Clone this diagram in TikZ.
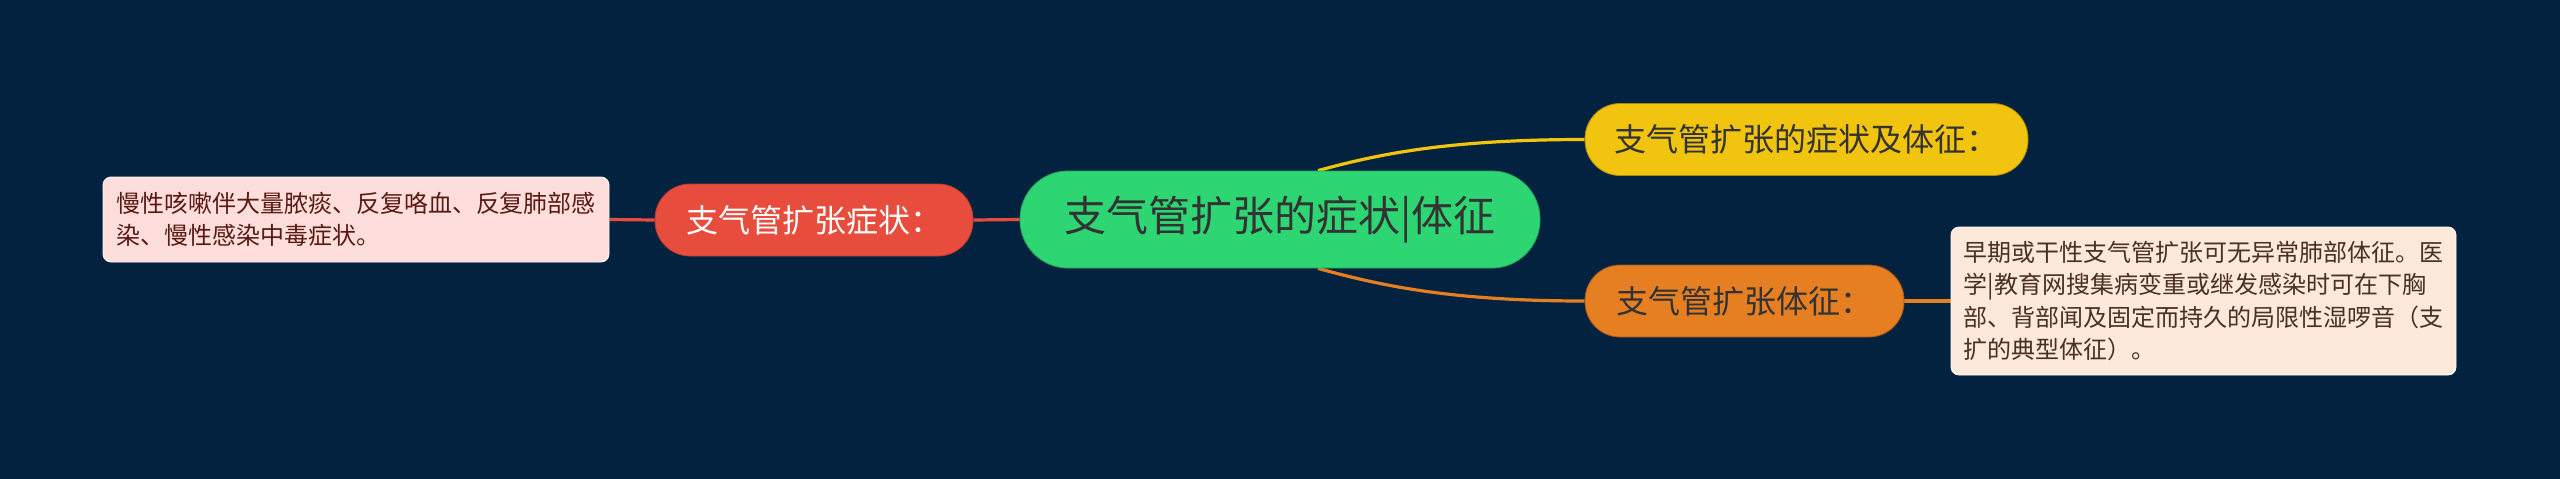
\documentclass[tikz,border=0pt]{standalone}
\usepackage{fontspec}
\setmainfont{Noto Sans CJK SC}
\usetikzlibrary{backgrounds}
\definecolor{bgc}{HTML}{022240}
\definecolor{cgreen}{HTML}{2ED573}
\definecolor{cred}{HTML}{E74C3C}
\definecolor{cyellow}{HTML}{F1C40F}
\definecolor{corange}{HTML}{E67E22}
\definecolor{pinkbox}{HTML}{FDDEDC}
\definecolor{peachbox}{HTML}{FCE9DA}
\definecolor{darktxt}{HTML}{333333}
\definecolor{redtxt}{HTML}{5A1A12}
\definecolor{browntxt}{HTML}{4A3020}
\tikzset{
  pill/.style={rounded corners=35pt, inner sep=0pt, align=center, line width=0.8pt},
  mainnode/.style={pill, rounded corners=48pt, fill=cgreen, draw=cgreen!80!black,
    minimum width=520pt, minimum height=97pt, text=darktxt,
    font=\fontsize{42}{48}\selectfont},
  subnode/.style={pill, minimum height=72pt, font=\fontsize{32}{38}\selectfont},
  detail/.style={rounded corners=8pt, inner sep=0pt, align=left, line width=0.8pt,
    font=\fontsize{24}{32.5}\selectfont},
  link/.style={line width=3.2pt}
}
\begin{document}
\begin{tikzpicture}[x=1pt,y=-1pt]
\useasboundingbox (0,0) rectangle (2560,479);
\node[mainnode] (root) at (1280,219.5) {支气管扩张的症状|体征};
\node[subnode, fill=cred, draw=cred!80!black, text=white, minimum width=318pt] (sym) at (814,220) {支气管扩张症状：};
\node[subnode, fill=cyellow, draw=cyellow!70!black, text=darktxt, minimum width=443pt] (both) at (1806.5,139.5) {支气管扩张的症状及体征：};
\node[subnode, fill=corange, draw=corange!70!black, text=darktxt, minimum width=319pt] (sign) at (1744.5,301) {支气管扩张体征：};
\node[detail, fill=pinkbox, draw=white!85!pinkbox, text=redtxt, minimum width=506pt, minimum height=85pt] (symd) at (356,219.5)
  {慢性咳嗽伴大量脓痰、反复咯血、反复肺部感\\染、慢性感染中毒症状。};
\node[detail, fill=peachbox, draw=white!85!peachbox, text=browntxt, minimum width=505pt, minimum height=148pt] (signd) at (2203.5,301)
  {早期或干性支气管扩张可无异常肺部体征。医\\学|教育网搜集病变重或继发感染时可在下胸\\部、背部闻及固定而持久的局限性湿啰音（支\\扩的典型体征）。};
\coordinate (ytop) at ([xshift=38pt]root.north);
\coordinate (obot) at ([xshift=38pt]root.south);
\begin{pgfonlayer}{background}
\fill[bgc] (0,0) rectangle (2560,479);
\draw[link, cred] (symd.east) -- (sym.west);
\draw[link, cred] (sym.east) -- (root.west);
\draw[link, cyellow] (ytop) .. controls +(62,-17) and +(-135,0) .. (both.west);
\draw[link, corange] (obot) .. controls +(62,17) and +(-135,0) .. (sign.west);
\draw[link, corange] (sign.east) -- (signd.west);
\end{pgfonlayer}
\end{tikzpicture}
\end{document}
